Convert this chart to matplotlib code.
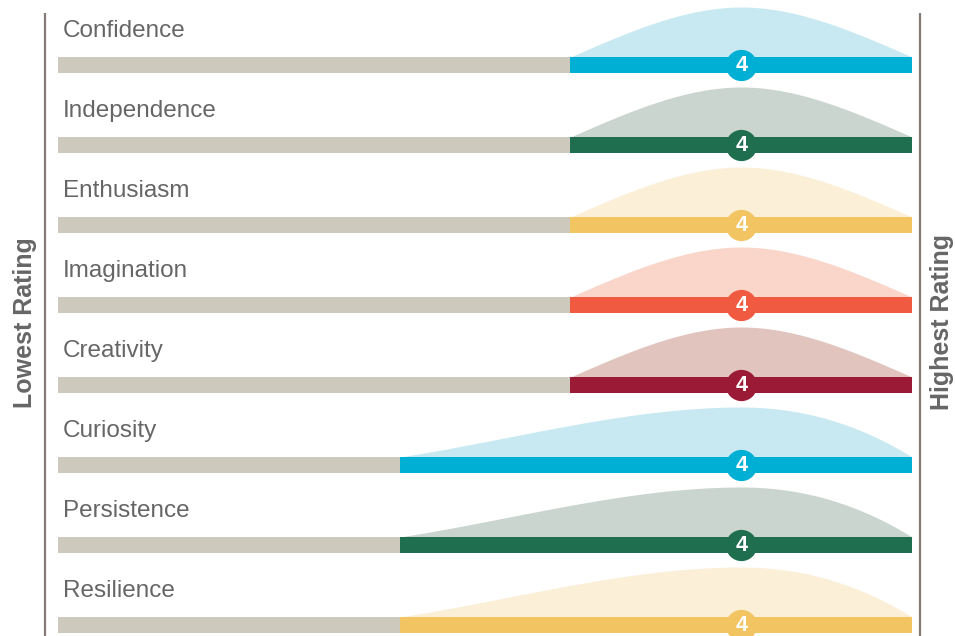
import numpy as np
import matplotlib
matplotlib.use("Agg")
import matplotlib.pyplot as plt

plt.rcParams["font.family"] = ["Liberation Sans", "DejaVu Sans"]

# Ratings per trait (scale 0-5): lowest, average and highest score
categories = ["Confidence", "Independence", "Enthusiasm", "Imagination",
              "Creativity", "Curiosity", "Persistence", "Resilience"]
min_rating = [3, 3, 3, 3, 3, 2, 2, 2]
avg_rating = [4, 4, 4, 4, 4, 4, 4, 4]
max_rating = [5, 5, 5, 5, 5, 5, 5, 5]
scale_max = 5

bar_colors = ["#00b0d4", "#1f6e50", "#f2c462", "#ef5a40",
              "#9b1a35", "#00b0d4", "#1f6e50", "#f2c462"]
hump_colors = ["#c9e9f2", "#cbd5cf", "#fbefd8", "#f9d6c9",
               "#e2c4bf", "#c9e9f2", "#cbd5cf", "#fbefd8"]
track_color = "#cdc9bc"
text_color = "#666666"
rule_color = "#857a75"

PX_PER_UNIT = 170.8   # horizontal pixels per rating point
ROW_PX = 80.0         # vertical pixels per row
BAR_H = 16 / ROW_PX
HUMP_H = 50 / ROW_PX


def hump_curve(lo, mid, hi, n=200):
    """Smooth bump rising from lo, peaking at mid, falling to hi."""
    a, b = mid - lo, hi - mid
    s_left = 1.5 * np.sqrt(b / a)
    s_right = 1.5 * np.sqrt(a / b)
    u = np.linspace(0, 1, n)
    yl = s_left * (u - 2 * u**2 + u**3) + (3 * u**2 - 2 * u**3)
    yr = (1 - 3 * u**2 + 2 * u**3) - s_right * (u**3 - u**2)
    x = np.concatenate([lo + a * u, mid + b * u[1:]])
    y = np.concatenate([yl, yr[1:]])
    return x, y


fig = plt.figure(figsize=(9.55, 6.36), dpi=100)
ax = fig.add_axes([0, 0, 1, 1])
ax.set_xlim(-58 / PX_PER_UNIT, scale_max + 43 / PX_PER_UNIT)
ax.set_ylim((636 - 65) / ROW_PX, -65 / ROW_PX)
ax.axis("off")

for i, name in enumerate(categories):
    lo, mid, hi = min_rating[i], avg_rating[i], max_rating[i]
    top = i - BAR_H / 2          # upper edge of the bar (y axis points down)
    hx, hy = hump_curve(lo, mid, hi)
    ax.fill_between(hx, top + 0.01, top - HUMP_H * hy, color=hump_colors[i],
                    lw=0, zorder=1)
    ax.barh(i, scale_max, left=0, height=BAR_H, color=track_color, zorder=2)
    ax.barh(i, hi - lo, left=lo, height=BAR_H, color=bar_colors[i], zorder=3)
    ax.plot(mid, i, "o", ms=22.5, color=bar_colors[i], mec="none", zorder=4)
    ax.text(mid, i + 0.005, f"{mid:g}", color="white", fontsize=15.5,
            fontweight="bold", ha="center", va="center", zorder=5)
    ax.text(5 / PX_PER_UNIT, i - 0.43, name, color=text_color, fontsize=17.5,
            ha="left", va="center", zorder=5)

# end rules
y_top, y_bot = (13 - 65) / ROW_PX, (636 - 65) / ROW_PX
ax.plot([-13 / PX_PER_UNIT] * 2, [y_top, y_bot], color=rule_color, lw=1.6,
        solid_capstyle="butt")
ax.plot([862 / PX_PER_UNIT] * 2, [y_top, y_bot], color=rule_color, lw=1.6,
        solid_capstyle="butt")

ax.text(-33 / PX_PER_UNIT, (323 - 65) / ROW_PX, "Lowest Rating", rotation=90,
        color=text_color, fontsize=18, fontweight="bold",
        ha="center", va="center")
ax.text(884 / PX_PER_UNIT, (322 - 65) / ROW_PX, "Highest Rating", rotation=90,
        color=text_color, fontsize=18, fontweight="bold",
        ha="center", va="center")

fig.savefig("out.png", dpi=100)
